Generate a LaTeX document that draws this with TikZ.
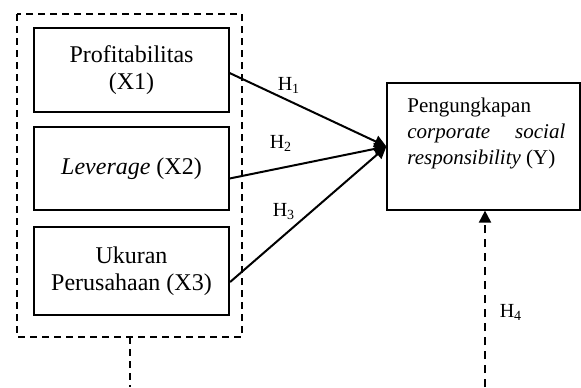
\documentclass[tikz,border=0pt]{standalone}
\usepackage{fontspec}
\setmainfont{Liberation Serif}
\usetikzlibrary{arrows.meta}

\tikzset{
  varbox/.style={draw, line width=0.6pt, minimum width=97.5pt, align=center, font=\fontsize{12}{13.5}\selectfont},
  hlabel/.style={font=\fontsize{10}{12}\selectfont},
  hyparrow/.style={line width=1pt, -{Triangle[length=6pt,width=6pt]}},
  groupline/.style={line width=0.8pt, dash pattern=on 3.5pt off 2.5pt}
}

\begin{document}
\begin{tikzpicture}[x=0.5pt, y=-0.5pt]
    \useasboundingbox (0,0) rectangle (581,387);

    % Independent variables
    \node[varbox, minimum height=42pt] (x1) at (131.5,70) {Profitabilitas\\(X1)};
    \node[varbox, minimum height=41.5pt] (x2) at (131.5,168.5) {\textit{Leverage} (X2)};
    \node[varbox, line width=1.1pt, minimum height=44pt] (x3) at (131.5,271) {Ukuran\\Perusahaan (X3)};

    % Dashed group around X1-X3
    \coordinate (gtl) at (17,14);
    \coordinate (gbr) at (242,337);
    \draw[groupline] (gtl) rectangle (gbr);

    % Dependent variable
    \node[draw, line width=0.6pt, minimum width=96.5pt, minimum height=63.5pt] (y) at (483.5,146.5) {};
    \node[anchor=north west, inner sep=0pt, align=left, font=\fontsize{10.5}{13}\selectfont] (ytext) at (407,98)
      {Pengungkapan\\\makebox[79pt][s]{\textit{corporate} \textit{social}}\\\textit{responsibility} (Y)};

    % H1 - H3
    \draw[hyparrow] ([yshift=-1.5pt]x1.east) -- (y.west);
    \draw[hyparrow] ([yshift=-5pt]x2.east) -- (y.west);
    \draw[hyparrow] ([yshift=-5.5pt]x3.east) -- (y.west);
    \node[hlabel] (h1) at (289,85) {H\textsubscript{1}};
    \node[hlabel] (h2) at (281,143) {H\textsubscript{2}};
    \node[hlabel] (h3) at (284,212) {H\textsubscript{3}};

    % H4 - joint effect
    \coordinate (gout) at (130,337);
    \coordinate (gend) at (130,387);
    \draw[groupline, line width=1pt] (gout) -- (gend);
    \coordinate (yin) at ([xshift=0.75pt]y.south |- 0,387);
    \draw[hyparrow, dash pattern=on 4pt off 3pt] (yin) -- ([xshift=0.75pt]y.south);
    \node[hlabel] (h4) at (511,312) {H\textsubscript{4}};
\end{tikzpicture}
\end{document}
